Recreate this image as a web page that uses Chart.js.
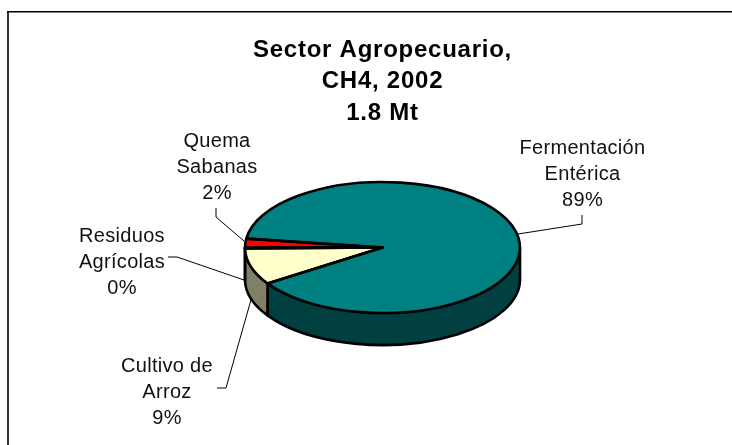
<!DOCTYPE html>
<html>
<head>
<meta charset="utf-8">
<title>Sector Agropecuario</title>
<script src="https://cdn.jsdelivr.net/npm/chart.js@4/dist/chart.umd.min.js"></script>
<style>
  html, body { margin: 0; padding: 0; background: #fff; }
  canvas { display: block; }
</style>
</head>
<body>
<canvas id="pieChart" width="732" height="445"></canvas>
<script>
// datos del grafico
const titleLines = ['Sector Agropecuario,', 'CH4, 2002', '1.8 Mt'];
const categories = [['Fermentación', 'Entérica'], ['Cultivo de', 'Arroz'], ['Residuos', 'Agrícolas'], ['Quema', 'Sabanas']];
const values = [88.6, 9.0, 0.3, 2.1];

// colores
const faceColors = ['#008080', '#FFFFCC', '#000000', '#FF0000'];
const wallColors = ['#004040', '#808066', '#000000', '#800000'];

// posicion del "3D" en pantalla
const pieCenterY = 247.5;
const squash = 65.5 / 137.5;
const depth = 32;
const outlineWidth = 2.6;

// etiquetas: centro del texto, primera linea y linea guia
const labelLayout = [
    { x: 582.5, y: 148, leader: [[582, 215], [582, 224], [518, 234]] },
    { x: 167, y: 366, leader: [[217, 388], [226, 388], [251.5, 298]] },
    { x: 122, y: 236, leader: [[168, 257], [177, 257], [244, 280]] },
    { x: 217, y: 141, leader: [[216, 208], [216, 217], [244, 241]] }
];

// aplana el pie alrededor de su centro
function applySquash(ctx, el) {
    ctx.translate(0, pieCenterY);
    ctx.scale(1, squash);
    ctx.translate(0, -el.y);
}

const pie3d = {
    id: 'pie3d',
    beforeDraw(chart) {
        const ctx = chart.ctx;
        // marco (solo arriba e izquierda)
        ctx.fillStyle = '#333333';
        ctx.fillRect(7, 11, 2, 434);
        ctx.fillStyle = '#000000';
        ctx.fillRect(7, 11, 725, 1.5);
        ctx.letterSpacing = '0.75px';
    },
    beforeDatasetsDraw(chart) {
        const ctx = chart.ctx;
        const arcs = chart.getDatasetMeta(0).data;

        // paredes frontales
        arcs.forEach((el, i) => {
            for (let k = -1; k <= 0; k++) {
                const a = Math.max(el.startAngle + k * 2 * Math.PI, 0);
                const b = Math.min(el.endAngle + k * 2 * Math.PI, Math.PI);
                if (b <= a) continue;
                ctx.save();
                ctx.beginPath();
                ctx.save();
                applySquash(ctx, el);
                ctx.arc(el.x, el.y, el.outerRadius, a, b);
                ctx.arc(el.x, el.y + depth / squash, el.outerRadius, b, a, true);
                ctx.closePath();
                ctx.restore();
                ctx.fillStyle = wallColors[i];
                ctx.fill();
                ctx.lineWidth = outlineWidth;
                ctx.lineJoin = 'round';
                ctx.strokeStyle = '#000';
                ctx.stroke();
                ctx.restore();
            }
        });

        ctx.save();
        applySquash(ctx, arcs[0]);
    },
    afterDatasetsDraw(chart) {
        const ctx = chart.ctx;
        ctx.restore();

        const arcs = chart.getDatasetMeta(0).data;
        const total = values.reduce((a, b) => a + b, 0);

        // contorno de cada sector, con grosor uniforme
        arcs.forEach((el) => {
            ctx.save();
            ctx.beginPath();
            ctx.save();
            applySquash(ctx, el);
            ctx.moveTo(el.x, el.y);
            ctx.arc(el.x, el.y, el.outerRadius, el.startAngle, el.endAngle);
            ctx.closePath();
            ctx.restore();
            ctx.lineWidth = outlineWidth;
            ctx.lineJoin = 'round';
            ctx.strokeStyle = '#000';
            ctx.stroke();
            ctx.restore();
        });

        // etiquetas y lineas guia
        ctx.save();
        ctx.letterSpacing = '0.3px';
        ctx.font = '20px "Liberation Sans", Arial, sans-serif';
        ctx.textAlign = 'center';
        ctx.textBaseline = 'middle';
        labelLayout.forEach((lab, i) => {
            ctx.beginPath();
            lab.leader.forEach((p, j) => {
                if (j === 0) ctx.moveTo(p[0], p[1]);
                else ctx.lineTo(p[0], p[1]);
            });
            ctx.lineWidth = 1;
            ctx.strokeStyle = '#000';
            ctx.stroke();

            const lines = categories[i].concat(Math.round(values[i] / total * 100) + '%');
            ctx.fillStyle = '#111';
            lines.forEach((t, n) => ctx.fillText(t, lab.x, lab.y + n * 26.2));
        });
        ctx.restore();
    }
};

new Chart(document.getElementById('pieChart'), {
    type: 'pie',
    data: {
        labels: categories.map(c => c.join(' ')),
        datasets: [{
            data: values,
            backgroundColor: faceColors,
            borderWidth: 0,
            clip: false
        }]
    },
    options: {
        responsive: false,
        animation: false,
        events: [],
        rotation: 277.8,
        layout: { padding: { left: 245, right: 212, top: 0, bottom: 0 } },
        plugins: {
            legend: { display: false },
            tooltip: { enabled: false },
            title: {
                display: true,
                text: titleLines,
                color: '#000',
                font: { family: '"Liberation Sans", Arial, sans-serif', size: 24, weight: 'bold', lineHeight: 1.3 },
                padding: { top: 35, bottom: 0 }
            }
        }
    },
    plugins: [pie3d]
});
</script>
</body>
</html>
